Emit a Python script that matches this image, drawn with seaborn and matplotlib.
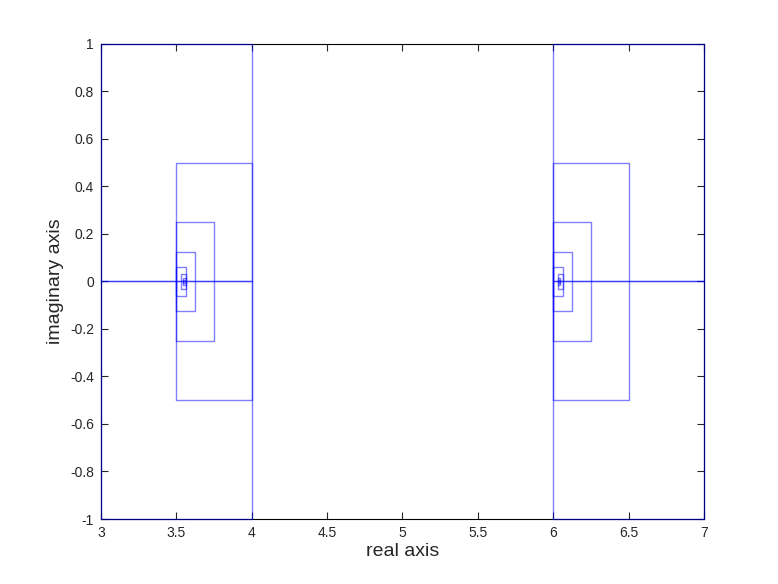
import numpy as np
import pandas as pd
import seaborn as sns
import matplotlib
matplotlib.use("Agg")
import matplotlib.pyplot as plt

# rectangles kept by the bisection search (left, right, bottom, top)
rect_x0 = [3, 3, 6, 6,
           3.5, 3.5, 3.5, 3.5, 3.53125, 3.546875, 3.546875,
           6, 6, 6, 6, 6.03125, 6.03125, 6.0390625]
rect_x1 = [4, 4, 7, 7,
           4, 3.75, 3.625, 3.5625, 3.5625, 3.5625, 3.5546875,
           6.5, 6.25, 6.125, 6.0625, 6.0625, 6.046875, 6.046875]
rect_y0 = [-1, 0, -1, 0,
           -0.5, -0.25, -0.125, -0.0625, -0.03125, -0.015625, -0.0078125,
           -0.5, -0.25, -0.125, -0.0625, -0.03125, -0.015625, -0.0078125]
rect_y1 = [0, 1, 0, 1,
           0.5, 0.25, 0.125, 0.0625, 0.03125, 0.015625, 0.0078125,
           0.5, 0.25, 0.125, 0.0625, 0.03125, 0.015625, 0.0078125]

xticks = [3, 3.5, 4, 4.5, 5, 5.5, 6, 6.5, 7]
yticks = [-1, -0.8, -0.6, -0.4, -0.2, 0, 0.2, 0.4, 0.6, 0.8, 1]

rows = []
for i, (a, b, c, d) in enumerate(zip(rect_x0, rect_x1, rect_y0, rect_y1)):
    for k, (px, py) in enumerate([(a, c), (b, c), (b, d), (a, d), (a, c)]):
        rows.append({"rect": i, "order": k, "re": px, "im": py})
df = pd.DataFrame(rows)

sns.set_style("white")
plt.rcParams["font.family"] = ["Liberation Sans", "DejaVu Sans"]

fig = plt.figure(figsize=(7.78, 5.84), dpi=100)
ax = fig.add_axes([0.1298, 0.1113, 0.7751, 0.8134])

sns.lineplot(data=df, x="re", y="im", units="rect", estimator=None, sort=False,
             color=(0, 0, 1), alpha=0.5, linewidth=1.0, ax=ax, legend=False)
for ln in ax.lines:
    ln.set_zorder(3)
    ln.set_clip_on(False)

ax.set_xlim(3, 7)
ax.set_ylim(-1, 1)
ax.set_xticks(xticks)
ax.set_xticklabels([f"{v:g}" for v in xticks])
ax.set_yticks(yticks)
ax.set_yticklabels([f"{v:g}" for v in yticks])
ax.tick_params(direction="in", length=5, width=0.8, labelsize=10,
               top=True, right=True, bottom=True, left=True, pad=5)
for s in ax.spines.values():
    s.set_linewidth(0.8)
    s.set_color("black")
ax.set_xlabel("real axis", fontsize=14, labelpad=2)
ax.set_ylabel("imaginary axis", fontsize=14, labelpad=4)

fig.savefig("out.png", dpi=100, facecolor="white")
